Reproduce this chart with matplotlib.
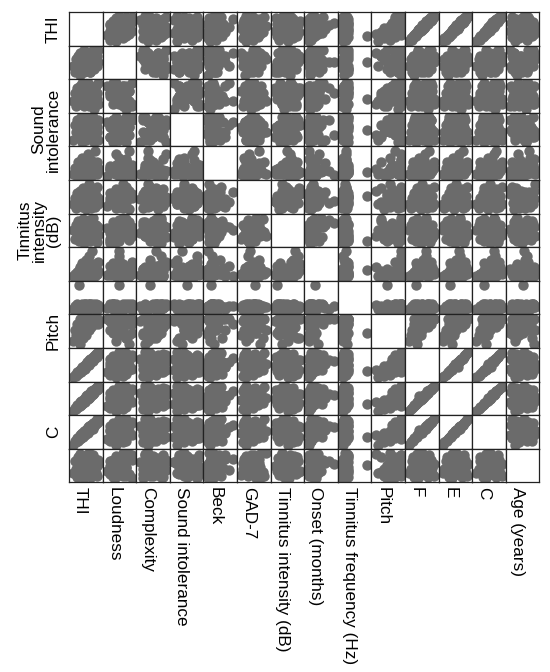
import matplotlib
matplotlib.use('Agg')
import matplotlib.pyplot as plt

plt.rcParams['font.family'] = ['Liberation Sans', 'DejaVu Sans']

# Variable names (same order on rows and columns)
names = ['THI', 'Loudness', 'Complexity', 'Sound intolerance', 'Beck', 'GAD-7',
         'Tinnitus intensity (dB)', 'Onset (months)', 'Tinnitus frequency (Hz)',
         'Pitch', 'F', 'E', 'C', 'Age (years)']

# Row labels shown on the left: (row index, text)
row_labels = [(0, 'THI'), (3, 'Sound\nintolerance'), (6, 'Tinnitus\nintensity\n(dB)'),
              (9, 'Pitch'), (12, 'C')]

# Per-subject values (48 subjects)
thi = [8, 14, 18, 22, 26, 28, 30, 32, 34, 36, 38, 40, 42, 44, 46, 48,
       50, 52, 54, 56, 58, 60, 62, 64, 66, 68, 70, 72, 74, 76, 78, 80,
       82, 84, 86, 88, 90, 92, 94, 96, 48, 56, 64, 72, 60, 52, 68, 76]
loud = [5, 3, 7, 4, 8, 6, 2, 9, 5, 7, 4, 6, 8, 3, 10, 5,
        7, 6, 9, 4, 8, 5, 7, 6, 3, 9, 8, 5, 6, 10, 7, 4,
        8, 6, 9, 7, 5, 8, 10, 6, 4, 7, 9, 5, 6, 8, 3, 7]
cplx = [3, 6, 1, 8, 5, 4, 9, 2, 7, 5, 10, 3, 6, 8, 1, 5,
        9, 4, 7, 2, 6, 10, 3, 8, 5, 7, 4, 9, 6, 2, 8, 5,
        0, 7, 3, 9, 6, 4, 10, 2, 8, 5, 1, 7, 3, 9, 6, 4]
sint = [1, 7, 4, 9, 2, 5, 8, 3, 10, 6, 0, 4, 7, 2, 9, 5,
        8, 1, 6, 3, 10, 7, 4, 9, 2, 6, 8, 5, 3, 10, 7, 9,
        0, 5, 8, 2, 6, 4, 9, 1, 7, 3, 10, 5, 8, 2, 6, 4]
beck = [4, 12, 2, 8, 20, 6, 1, 10, 15, 3, 7, 25, 5, 9, 2, 13,
        6, 18, 4, 11, 8, 30, 3, 7, 14, 5, 22, 9, 2, 16, 6, 10,
        4, 12, 35, 7, 3, 19, 8, 11, 5, 14, 2, 9, 6, 24, 10, 4]
gad = [5, 10, 2, 14, 7, 12, 4, 16, 9, 6, 11, 3, 18, 8, 13, 5,
       10, 15, 1, 9, 12, 7, 21, 6, 14, 10, 4, 17, 8, 11, 13, 6,
       9, 3, 15, 12, 7, 19, 10, 5, 8, 14, 11, 2, 16, 9, 6, 12]
inten = [45, 20, 60, 35, 70, 15, 50, 30, 65, 40, 25, 55, 75, 10, 48, 62,
         33, 58, 22, 68, 42, 52, 28, 72, 38, 18, 56, 46, 64, 30, 78, 50,
         36, 24, 44, 58, 12, 40, 54, 32, 20, 48, 66, 28, 38, 52, 16, 44]
onset = [12, 30, 6, 48, 24, 60, 18, 90, 36, 8, 120, 24, 54, 15, 72, 40,
         10, 150, 28, 66, 20, 96, 45, 180, 34, 14, 78, 52, 220, 26, 110, 60,
         18, 42, 9, 84, 30, 24, 130, 50, 16, 36, 70, 22, 48, 12, 100, 38]
freq = [1000, 3000, 500, 4000, 2000, 16000, 1500, 3500, 250, 2500, 4000, 1000, 3000, 2000, 500, 4000,
        3500, 1500, 2500, 750, 4000, 3000, 2000, 1000, 3500, 4000, 2500, 1500, 3000, 4000, 2000, 3500,
        3000, 1000, 3000, 4000, 500, 2500, 3500, 1500, 4000, 2000, 3000, 3500, 1000, 2500, 4000, 3000]
pitch = [2, 6, 4, 8, 3, 5, 10, 1, 7, 4, 10, 6, 3, 9, 5, 10,
         7, 10, 4, 10, 8, 10, 6, 10, 9, 10, 10, 7, 10, 10, 10, 10,
         9, 10, 8, 10, 9, 10, 8, 10, 5, 8, 10, 9, 7, 10, 9, 10]
f_sc = [4, 8, 6, 12, 10, 14, 12, 16, 13, 18, 15, 20, 16, 22, 18, 24,
        20, 26, 22, 27, 24, 29, 25, 31, 27, 32, 28, 34, 30, 36, 31, 38,
        34, 40, 35, 41, 37, 43, 39, 44, 18, 28, 24, 33, 25, 20, 34, 30]
e_sc = [2, 6, 4, 10, 8, 12, 9, 14, 10, 15, 12, 16, 13, 18, 14, 19,
        16, 20, 17, 22, 18, 24, 20, 25, 21, 27, 23, 28, 24, 30, 25, 31,
        27, 32, 29, 33, 30, 35, 32, 36, 14, 23, 20, 29, 19, 22, 27, 25]
c_sc = [1, 4, 3, 6, 4, 7, 5, 8, 6, 9, 7, 10, 7, 11, 8, 11,
        9, 12, 10, 13, 11, 14, 11, 15, 12, 15, 13, 16, 14, 17, 14, 17,
        15, 18, 16, 19, 17, 20, 18, 20, 8, 13, 11, 16, 10, 12, 15, 13]
age = [34, 58, 42, 27, 66, 50, 38, 71, 45, 29, 55, 62, 36, 48, 24, 68,
       41, 53, 31, 60, 46, 39, 73, 57, 33, 64, 44, 26, 52, 69, 37, 49,
       56, 43, 61, 35, 47, 28, 59, 51, 40, 65, 32, 54, 45, 70, 38, 58]

data = [thi, loud, cplx, sint, beck, gad, inten, onset, freq, pitch, f_sc, e_sc, c_sc, age]

W, H = 550, 672
fig = plt.figure(figsize=(W / 100, H / 100), dpi=100)

x0, y0 = 69, 12          # top-left of the matrix in pixels
cell = 33.6
n = len(names)


def lims(v, pad=0.17):
    lo, hi = min(v), max(v)
    r = hi - lo
    return lo - pad * r, hi + pad * r


for i in range(n):
    for j in range(n):
        left = (x0 + j * cell) / W
        bottom = 1 - (y0 + (i + 1) * cell) / H
        ax = fig.add_axes([left, bottom, cell / W, cell / H])
        ax.set_xticks([])
        ax.set_yticks([])
        for sp in ax.spines.values():
            sp.set_linewidth(0.9)
            sp.set_color('#222222')
        if i != j:
            ax.scatter(data[j], data[i], s=56, color='#6b6b6b', linewidths=0)
        ax.set_xlim(*lims(data[j]))
        ax.set_ylim(*lims(data[i]))

# bottom labels
grid_bottom = y0 + n * cell
for j, name in enumerate(names):
    fig.text((x0 + j * cell + 4) / W, 1 - (grid_bottom + 5) / H, name,
             rotation=-90, ha='left', va='top', fontsize=12.3)

# left labels
for i, txt in row_labels:
    fig.text(61 / W, 1 - (y0 + (i + 0.5) * cell) / H, txt, rotation=90,
             ha='right', va='center', fontsize=12.3, multialignment='center',
             linespacing=0.95)

fig.savefig('out.png', dpi=100)
